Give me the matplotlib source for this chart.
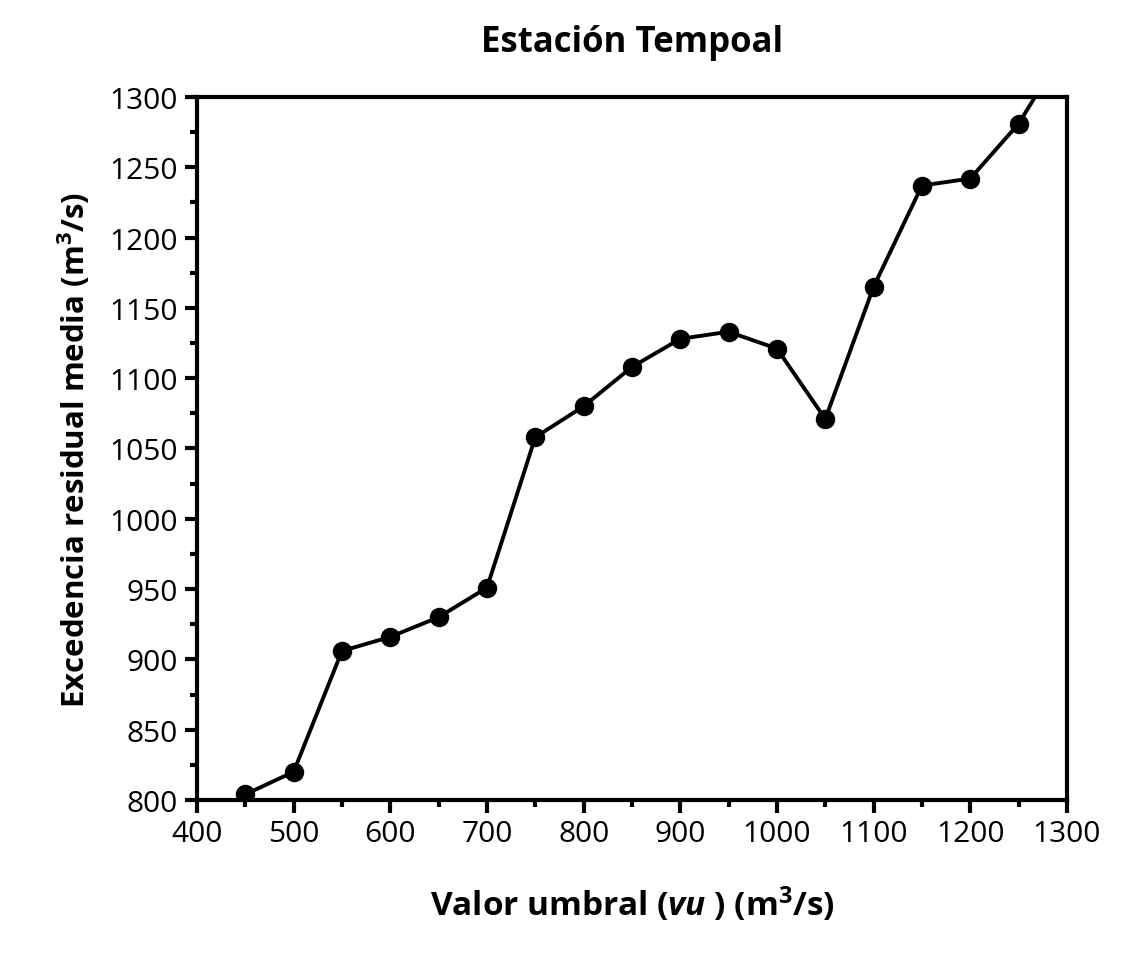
"""Excedencia residual media vs valor umbral, estacion Tempoal."""

import matplotlib
matplotlib.use("Agg")
import matplotlib.pyplot as plt
from matplotlib.ticker import MultipleLocator

plt.rcParams.update({
    "font.family": ["Open Sans", "DejaVu Sans"],
    "font.size": 16,
    "mathtext.fontset": "custom",
    "mathtext.rm": "Open Sans",
    "mathtext.it": "Open Sans:italic:bold",
    "mathtext.bf": "Open Sans:bold",
    "figure.facecolor": "white",
    "savefig.facecolor": "white",
})

umbral = [450, 500, 550, 600, 650, 700, 750, 800, 850, 900, 950,
          1000, 1050, 1100, 1150, 1200, 1250, 1300]
excedencia = [804, 820, 906, 916, 930, 951, 1058, 1080, 1108, 1128, 1133,
              1121, 1071, 1165, 1237, 1242, 1281, 1337]

fig = plt.figure(figsize=(11.23, 9.54), dpi=100)
ax = fig.add_axes([0.1754, 0.1604, 0.7747, 0.7369])

ax.plot(umbral, excedencia, color="black", lw=2.8, marker="o", ms=13)

ax.set_xlim(400, 1300)
ax.set_ylim(800, 1300)
ax.xaxis.set_major_locator(MultipleLocator(100))
ax.xaxis.set_minor_locator(MultipleLocator(50))
ax.yaxis.set_major_locator(MultipleLocator(50))
ax.yaxis.set_minor_locator(MultipleLocator(25))
ax.tick_params(which="major", direction="out", length=9, width=3, labelsize=21.5, pad=5)
ax.tick_params(which="minor", direction="out", length=5, width=3)
for s in ax.spines.values():
    s.set_linewidth(3)

ax.set_title("Estación Tempoal", fontsize=25, fontweight="bold", pad=33)
ax.set_xlabel(r"Valor umbral ($\mathit{vu}$ ) (m$\mathregular{^3}$/s)",
              fontsize=24, fontweight="bold", labelpad=25)
ax.set_ylabel(r"Excedencia residual media (m$\mathregular{^3}$/s)",
              fontsize=22.5, fontweight="bold", labelpad=12)

fig.savefig("out.png", dpi=100)
